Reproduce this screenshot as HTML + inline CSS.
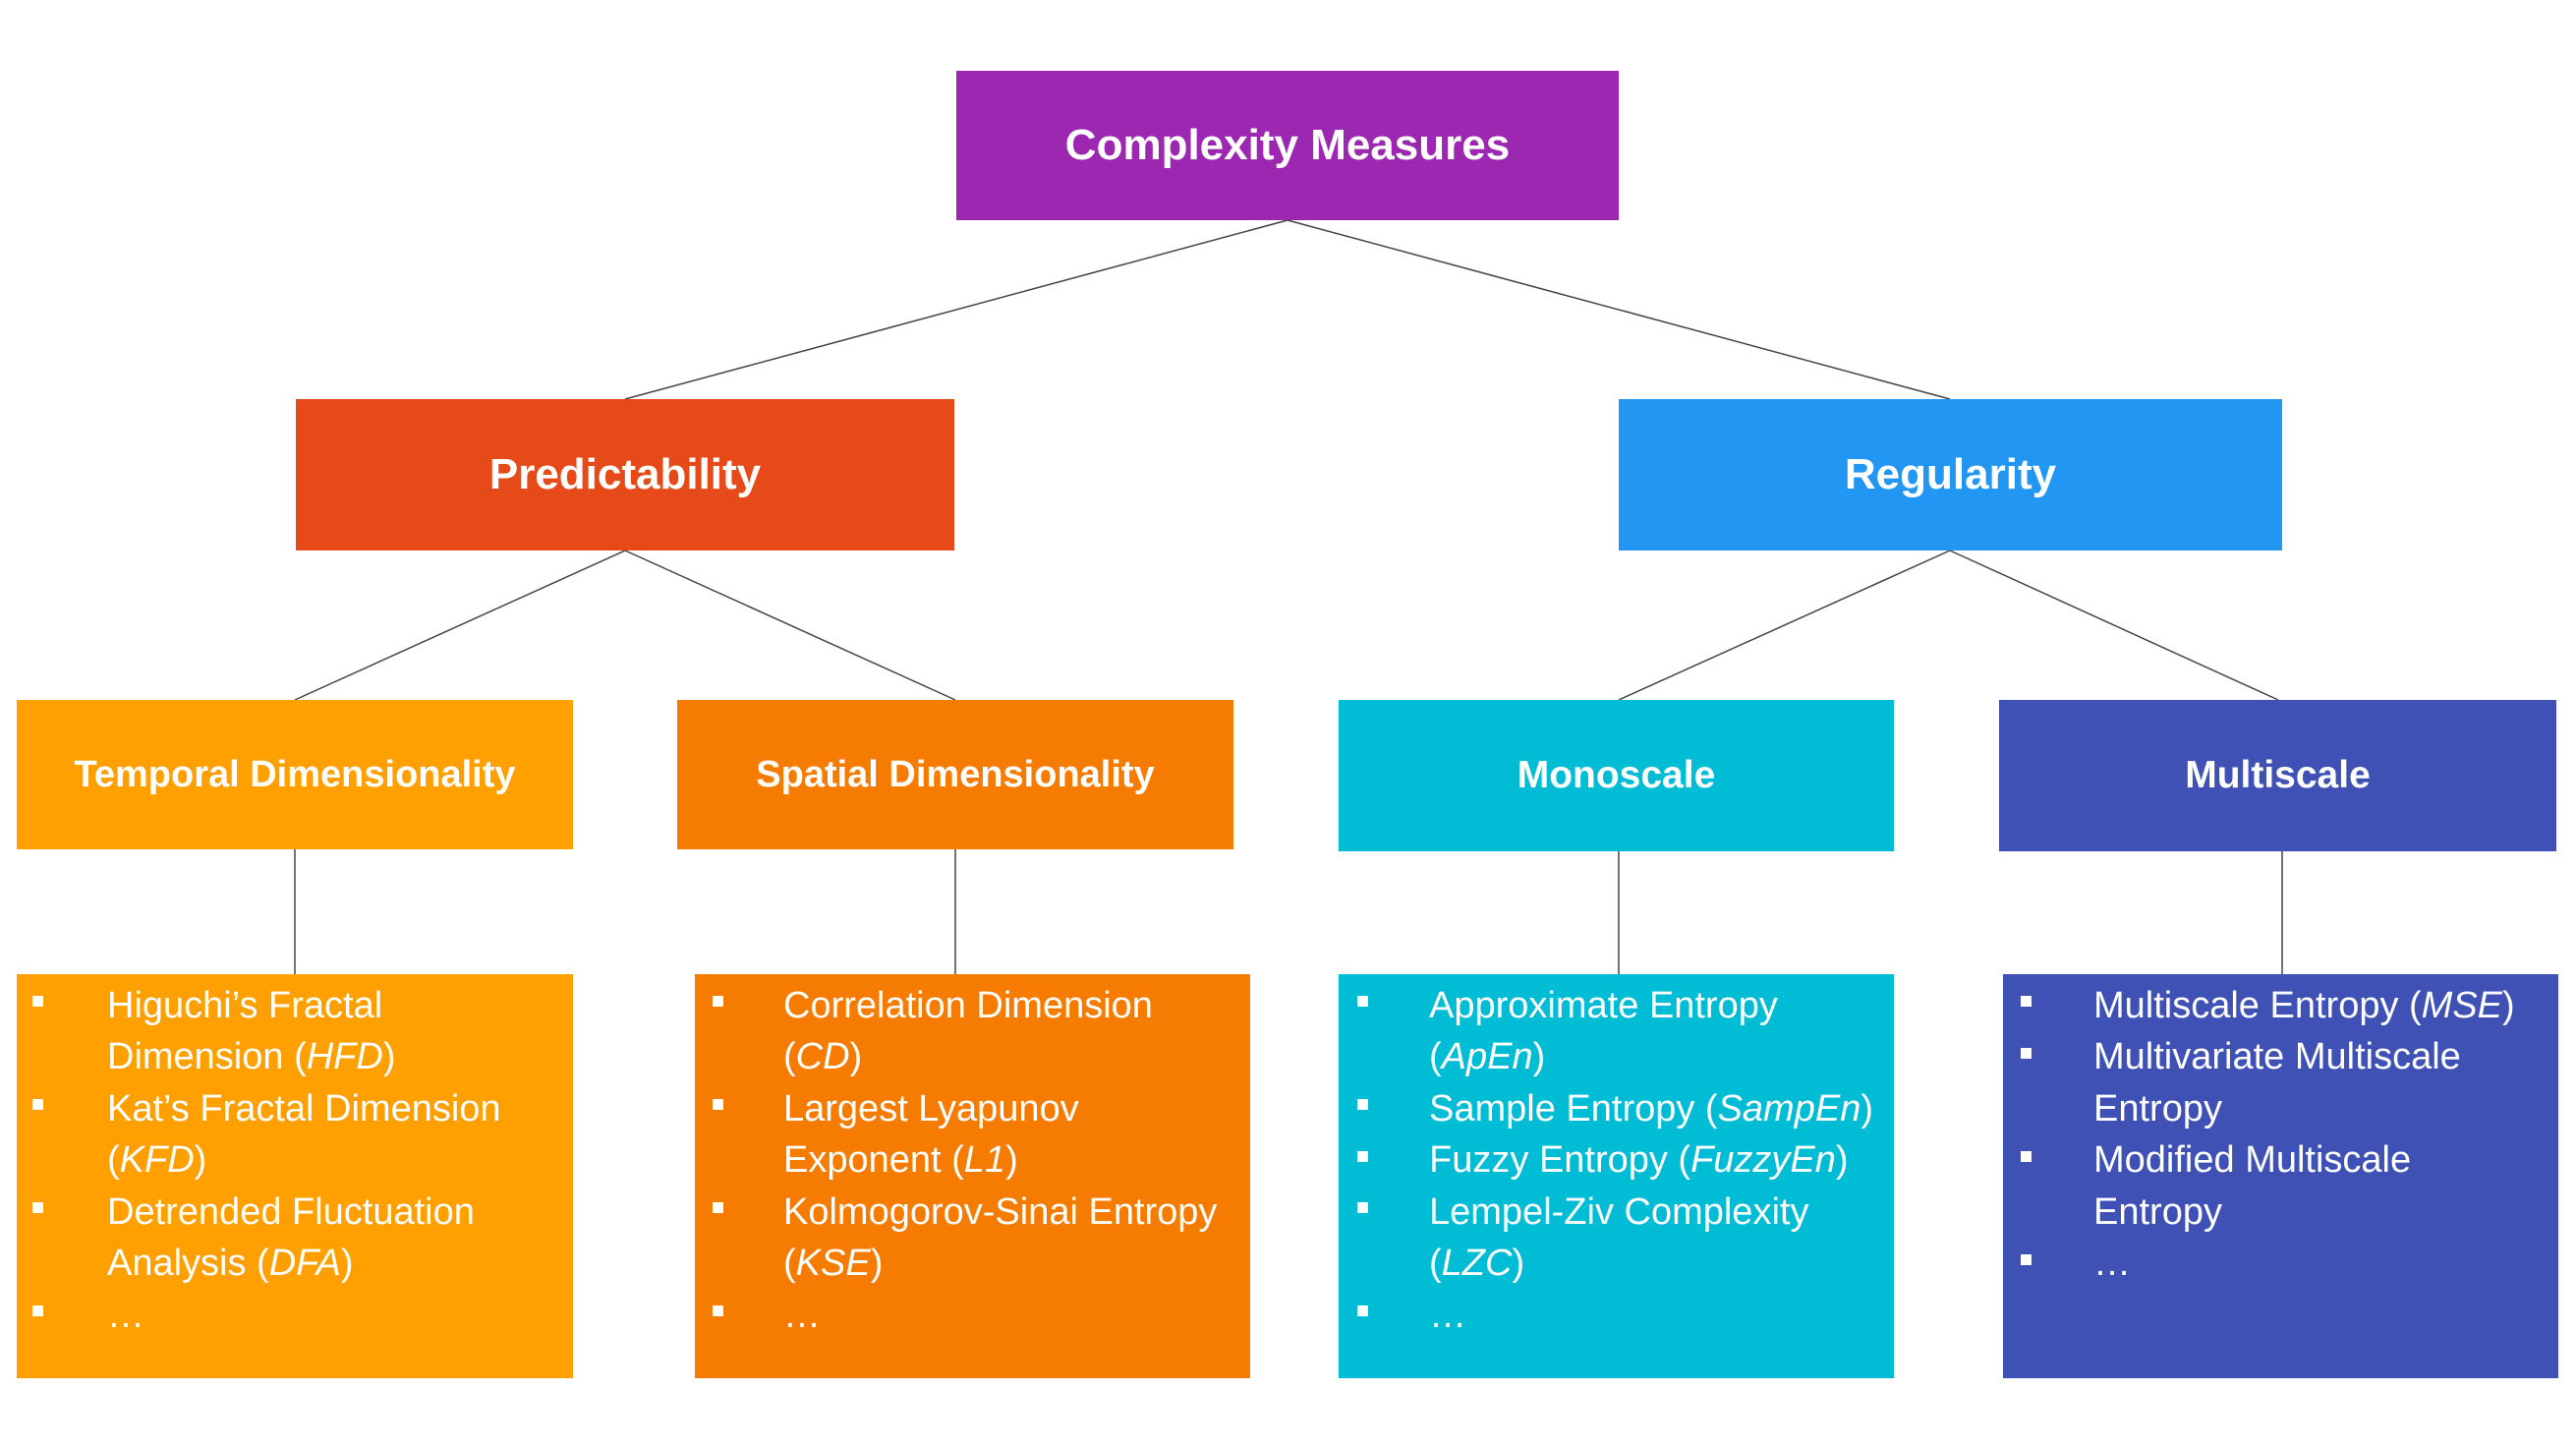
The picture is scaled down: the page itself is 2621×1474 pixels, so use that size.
<!DOCTYPE html>
<html><head><meta charset="utf-8"><style>
body{margin:0;width:2621px;height:1474px;background:#fff;position:relative;overflow:hidden;font-family:"Liberation Sans",sans-serif}
.b{position:absolute;color:#fff;font-weight:bold;display:flex;align-items:center;justify-content:center;white-space:nowrap}
.l{position:absolute;color:#fff;font-size:38px;line-height:52.5px}
.ln{position:absolute;white-space:nowrap}
.bu{position:absolute;width:11px;height:11px;background:#fff}
</style></head><body>
<svg width="2621" height="1474" style="position:absolute;left:0;top:0" stroke="#444" stroke-width="1.5">
<line x1="1310" y1="224" x2="636" y2="406"/>
<line x1="1310" y1="224" x2="1984" y2="406"/>
<line x1="636" y1="560" x2="300" y2="712"/>
<line x1="636" y1="560" x2="972" y2="712"/>
<line x1="1984" y1="560" x2="1647" y2="712"/>
<line x1="1984" y1="560" x2="2318" y2="712"/>
<line x1="300" y1="864" x2="300" y2="991"/>
<line x1="972" y1="864" x2="972" y2="991"/>
<line x1="1647" y1="866" x2="1647" y2="991"/>
<line x1="2322" y1="866" x2="2322" y2="991"/>
</svg>
<div class="b" style="left:973px;top:72px;width:674px;height:152px;background:#9C27B0;font-size:44px">Complexity Measures</div>
<div class="b" style="left:301px;top:406px;width:670px;height:154px;background:#E64A19;font-size:44px">Predictability</div>
<div class="b" style="left:1647px;top:406px;width:675px;height:154px;background:#2196F3;font-size:44px">Regularity</div>
<div class="b" style="left:17px;top:712px;width:566px;height:152px;background:#FFA000;font-size:38px">Temporal Dimensionality</div>
<div class="b" style="left:689px;top:712px;width:566px;height:152px;background:#F57C00;font-size:38px">Spatial Dimensionality</div>
<div class="b" style="left:1362px;top:712px;width:565px;height:154px;background:#00BCD4;font-size:39px">Monoscale</div>
<div class="b" style="left:2034px;top:712px;width:567px;height:154px;background:#3F51B5;font-size:39px">Multiscale</div>

<div class="l" style="left:17px;top:991px;width:566px;height:411px;background:#FFA000">
<div class="bu" style="left:16px;top:22px"></div><div class="ln" style="left:92px;top:6px">Higuchi’s Fractal</div>
<div class="ln" style="left:92px;top:58px">Dimension (<i>HFD</i>)</div>
<div class="bu" style="left:16px;top:127px"></div><div class="ln" style="left:92px;top:111px">Kat’s Fractal Dimension</div>
<div class="ln" style="left:92px;top:163px">(<i>KFD</i>)</div>
<div class="bu" style="left:16px;top:232px"></div><div class="ln" style="left:92px;top:216px">Detrended Fluctuation</div>
<div class="ln" style="left:92px;top:268px">Analysis (<i>DFA</i>)</div>
<div class="bu" style="left:16px;top:337px"></div><div class="ln" style="left:92px;top:321px">…</div>
</div>

<div class="l" style="left:707px;top:991px;width:565px;height:411px;background:#F57C00">
<div class="bu" style="left:18px;top:22px"></div><div class="ln" style="left:90px;top:6px">Correlation Dimension</div>
<div class="ln" style="left:90px;top:58px">(<i>CD</i>)</div>
<div class="bu" style="left:18px;top:127px"></div><div class="ln" style="left:90px;top:111px">Largest Lyapunov</div>
<div class="ln" style="left:90px;top:163px">Exponent (<i>L1</i>)</div>
<div class="bu" style="left:18px;top:232px"></div><div class="ln" style="left:90px;top:216px">Kolmogorov-Sinai Entropy</div>
<div class="ln" style="left:90px;top:268px">(<i>KSE</i>)</div>
<div class="bu" style="left:18px;top:337px"></div><div class="ln" style="left:90px;top:321px">…</div>
</div>

<div class="l" style="left:1362px;top:991px;width:565px;height:411px;background:#00BCD4">
<div class="bu" style="left:19px;top:22px"></div><div class="ln" style="left:92px;top:6px">Approximate Entropy</div>
<div class="ln" style="left:92px;top:58px">(<i>ApEn</i>)</div>
<div class="bu" style="left:19px;top:127px"></div><div class="ln" style="left:92px;top:111px">Sample Entropy (<i>SampEn</i>)</div>
<div class="bu" style="left:19px;top:180px"></div><div class="ln" style="left:92px;top:163px">Fuzzy Entropy (<i>FuzzyEn</i>)</div>
<div class="bu" style="left:19px;top:232px"></div><div class="ln" style="left:92px;top:216px">Lempel-Ziv Complexity</div>
<div class="ln" style="left:92px;top:268px">(<i>LZC</i>)</div>
<div class="bu" style="left:19px;top:337px"></div><div class="ln" style="left:92px;top:321px">…</div>
</div>

<div class="l" style="left:2038px;top:991px;width:565px;height:411px;background:#3F51B5">
<div class="bu" style="left:18px;top:22px"></div><div class="ln" style="left:92px;top:6px">Multiscale Entropy (<i>MSE</i>)</div>
<div class="bu" style="left:18px;top:75px"></div><div class="ln" style="left:92px;top:58px">Multivariate Multiscale</div>
<div class="ln" style="left:92px;top:111px">Entropy</div>
<div class="bu" style="left:18px;top:180px"></div><div class="ln" style="left:92px;top:163px">Modified Multiscale</div>
<div class="ln" style="left:92px;top:216px">Entropy</div>
<div class="bu" style="left:18px;top:285px"></div><div class="ln" style="left:92px;top:268px">…</div>
</div>
</body></html>
